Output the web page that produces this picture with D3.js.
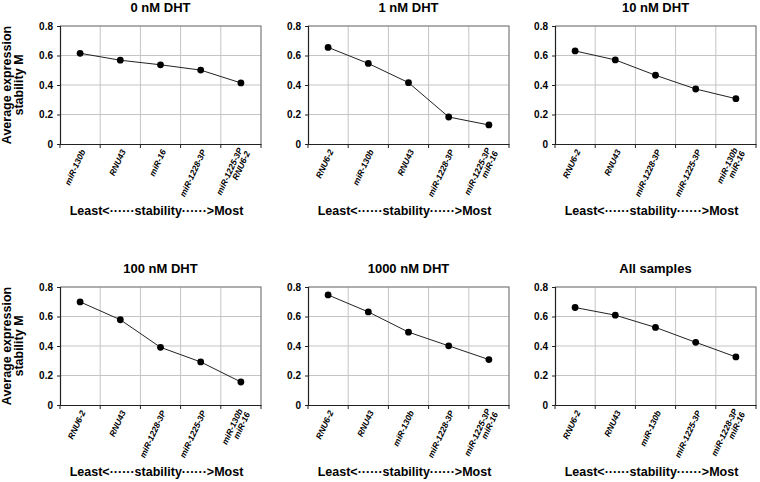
<!DOCTYPE html>
<html>
<head>
<meta charset="utf-8">
<script src="https://cdn.jsdelivr.net/npm/d3@7"></script>
<style>
  body { margin: 0; background: #fff; }
  text { font-family: "Liberation Sans", Arial, sans-serif; fill: #000; }
</style>
</head>
<body>
<div id="chart"></div>
<script>
// chart data
var titles = ["0 nM DHT", "1 nM DHT", "10 nM DHT", "100 nM DHT", "1000 nM DHT", "All samples"];

var genes0 = ["miR-130b", "RNU43", "miR-16", "miR-1228-3P", "miR-1225-3P\nRNU6-2"];
var stab0 = [0.615, 0.568, 0.537, 0.501, 0.414];

var genes1 = ["RNU6-2", "miR-130b", "RNU43", "miR-1228-3P", "miR-1225-3P\nmiR-16"];
var stab1 = [0.655, 0.546, 0.416, 0.183, 0.129];

var genes10 = ["RNU6-2", "RNU43", "miR-1228-3P", "miR-1225-3P", "miR-130b\nmiR-16"];
var stab10 = [0.631, 0.570, 0.466, 0.373, 0.307];

var genes100 = ["RNU6-2", "RNU43", "miR-1228-3P", "miR-1225-3P", "miR-130b\nmiR-16"];
var stab100 = [0.699, 0.578, 0.391, 0.292, 0.156];

var genes1000 = ["RNU6-2", "RNU43", "miR-130b", "miR-1228-3P", "miR-1225-3P\nmiR-16"];
var stab1000 = [0.746, 0.631, 0.494, 0.401, 0.308];

var genesAll = ["RNU6-2", "RNU43", "miR-130b", "miR-1225-3P", "miR-1228-3P\nmiR-16"];
var stabAll = [0.661, 0.609, 0.526, 0.425, 0.326];

var yTicks = [0, 0.2, 0.4, 0.6, 0.8];

var panels = [
  { title: titles[0], genes: genes0, stab: stab0 },
  { title: titles[1], genes: genes1, stab: stab1 },
  { title: titles[2], genes: genes10, stab: stab10 },
  { title: titles[3], genes: genes100, stab: stab100 },
  { title: titles[4], genes: genes1000, stab: stab1000 },
  { title: titles[5], genes: genesAll, stab: stabAll }
];

// layout
var svgWidth = 760;
var svgHeight = 482;
var colLeft = [60, 308, 555];
var rowTop = [26, 287];
var plotW = 201;
var plotH = 118;

var svg = d3.select("#chart")
  .append("svg")
  .attr("width", svgWidth)
  .attr("height", svgHeight);

panels.forEach(function(p, i) {
  var col = i % 3;
  var row = Math.floor(i / 3);
  var g = svg.append("g")
    .attr("transform", `translate(${colLeft[col]}, ${rowTop[row]})`);

  var x = d3.scaleBand().domain(p.genes).range([0, plotW]);
  var y = d3.scaleLinear().domain([0, 0.8]).range([plotH, 0]);
  var bw = x.bandwidth();

  // horizontal grid lines
  g.selectAll(".hgrid")
    .data(yTicks.slice(1))
    .enter()
    .append("line")
    .attr("x1", 0).attr("x2", plotW)
    .attr("y1", d => y(d)).attr("y2", d => y(d))
    .attr("stroke", "#c4c4c4")
    .attr("stroke-width", 1);

  // vertical grid lines at category boundaries
  g.selectAll(".vgrid")
    .data(p.genes.slice(1))
    .enter()
    .append("line")
    .attr("x1", d => x(d)).attr("x2", d => x(d))
    .attr("y1", 0).attr("y2", plotH)
    .attr("stroke", "#c4c4c4")
    .attr("stroke-width", 1);

  // top and right frame
  g.append("path")
    .attr("d", `M0,0H${plotW}V${plotH}`)
    .attr("fill", "none")
    .attr("stroke", "#7a7a7a")
    .attr("stroke-width", 1.2);

  // y axis
  var yAxis = g.append("g")
    .call(d3.axisLeft(y).tickValues(yTicks).tickSize(3).tickPadding(4)
      .tickFormat(d => d === 0 ? "0" : d.toFixed(1)));
  yAxis.select(".domain").attr("stroke", "#222").attr("stroke-width", 1.2);
  yAxis.selectAll("line").attr("stroke", "#222");
  yAxis.selectAll("text")
    .attr("font-size", 10)
    .attr("font-weight", "bold")
    .attr("font-family", "Liberation Sans, Arial, sans-serif");

  // x axis
  var xAxis = g.append("g")
    .attr("transform", `translate(0, ${plotH})`)
    .call(d3.axisBottom(x).tickSize(0).tickFormat(""));
  xAxis.select(".domain").attr("stroke", "#222").attr("stroke-width", 1.2);

  g.selectAll(".xtick")
    .data(p.genes.map(d => x(d)).concat([plotW]))
    .enter()
    .append("line")
    .attr("x1", d => d).attr("x2", d => d)
    .attr("y1", plotH).attr("y2", plotH + 4)
    .attr("stroke", "#222");

  var labels = g.selectAll(".xlab")
    .data(p.genes)
    .enter()
    .append("text")
    .attr("transform", d => `translate(${x(d) + bw / 2 + 3}, ${plotH + 6}) rotate(-65)`)
    .attr("text-anchor", "end")
    .attr("font-size", 8.5)
    .attr("font-weight", "bold")
    .attr("font-style", "italic");

  labels.each(function(d) {
    var lines = d.split("\n");
    var t = d3.select(this);
    lines.forEach(function(s, k) {
      var off = k - (lines.length - 1) / 2;
      t.append("tspan")
        .attr("x", 0)
        .attr("y", 0)
        .attr("dy", (0.35 + off * 0.95) + "em")
        .text(s);
    });
  });

  // data line and points
  var pts = p.genes.map((gname, k) => ({ gene: gname, v: p.stab[k] }));
  var line = d3.line()
    .x(d => x(d.gene) + bw / 2)
    .y(d => y(d.v));

  g.append("path")
    .datum(pts)
    .attr("d", line)
    .attr("fill", "none")
    .attr("stroke", "#222")
    .attr("stroke-width", 1);

  g.selectAll(".pt")
    .data(pts)
    .enter()
    .append("circle")
    .attr("cx", d => x(d.gene) + bw / 2)
    .attr("cy", d => y(d.v))
    .attr("r", 3.4)
    .attr("fill", "#000");

  // panel title
  g.append("text")
    .attr("x", plotW / 2)
    .attr("y", -14)
    .attr("text-anchor", "middle")
    .attr("font-size", 13)
    .attr("font-weight", "bold")
    .text(p.title);

  // stability direction label
  g.append("text")
    .attr("x", plotW / 2 - 4)
    .attr("y", plotH + 71)
    .attr("text-anchor", "middle")
    .attr("font-size", 12.5)
    .attr("font-weight", "bold")
    .text("Least<\u00b7\u00b7\u00b7\u00b7\u00b7\u00b7stability\u00b7\u00b7\u00b7\u00b7\u00b7\u00b7>Most");

  // y axis title only on the first column
  if (col === 0) {
    var yt = svg.append("text")
      .attr("transform", `translate(0, ${rowTop[row] + plotH / 2}) rotate(-90)`)
      .attr("text-anchor", "middle")
      .attr("font-size", 12.5)
      .attr("font-weight", "bold");
    yt.append("tspan").attr("x", 0).attr("y", 11).text("Average expression");
    yt.append("tspan").attr("x", 0).attr("y", 22.5).text("stability M");
  }
});
</script>
</body>
</html>
